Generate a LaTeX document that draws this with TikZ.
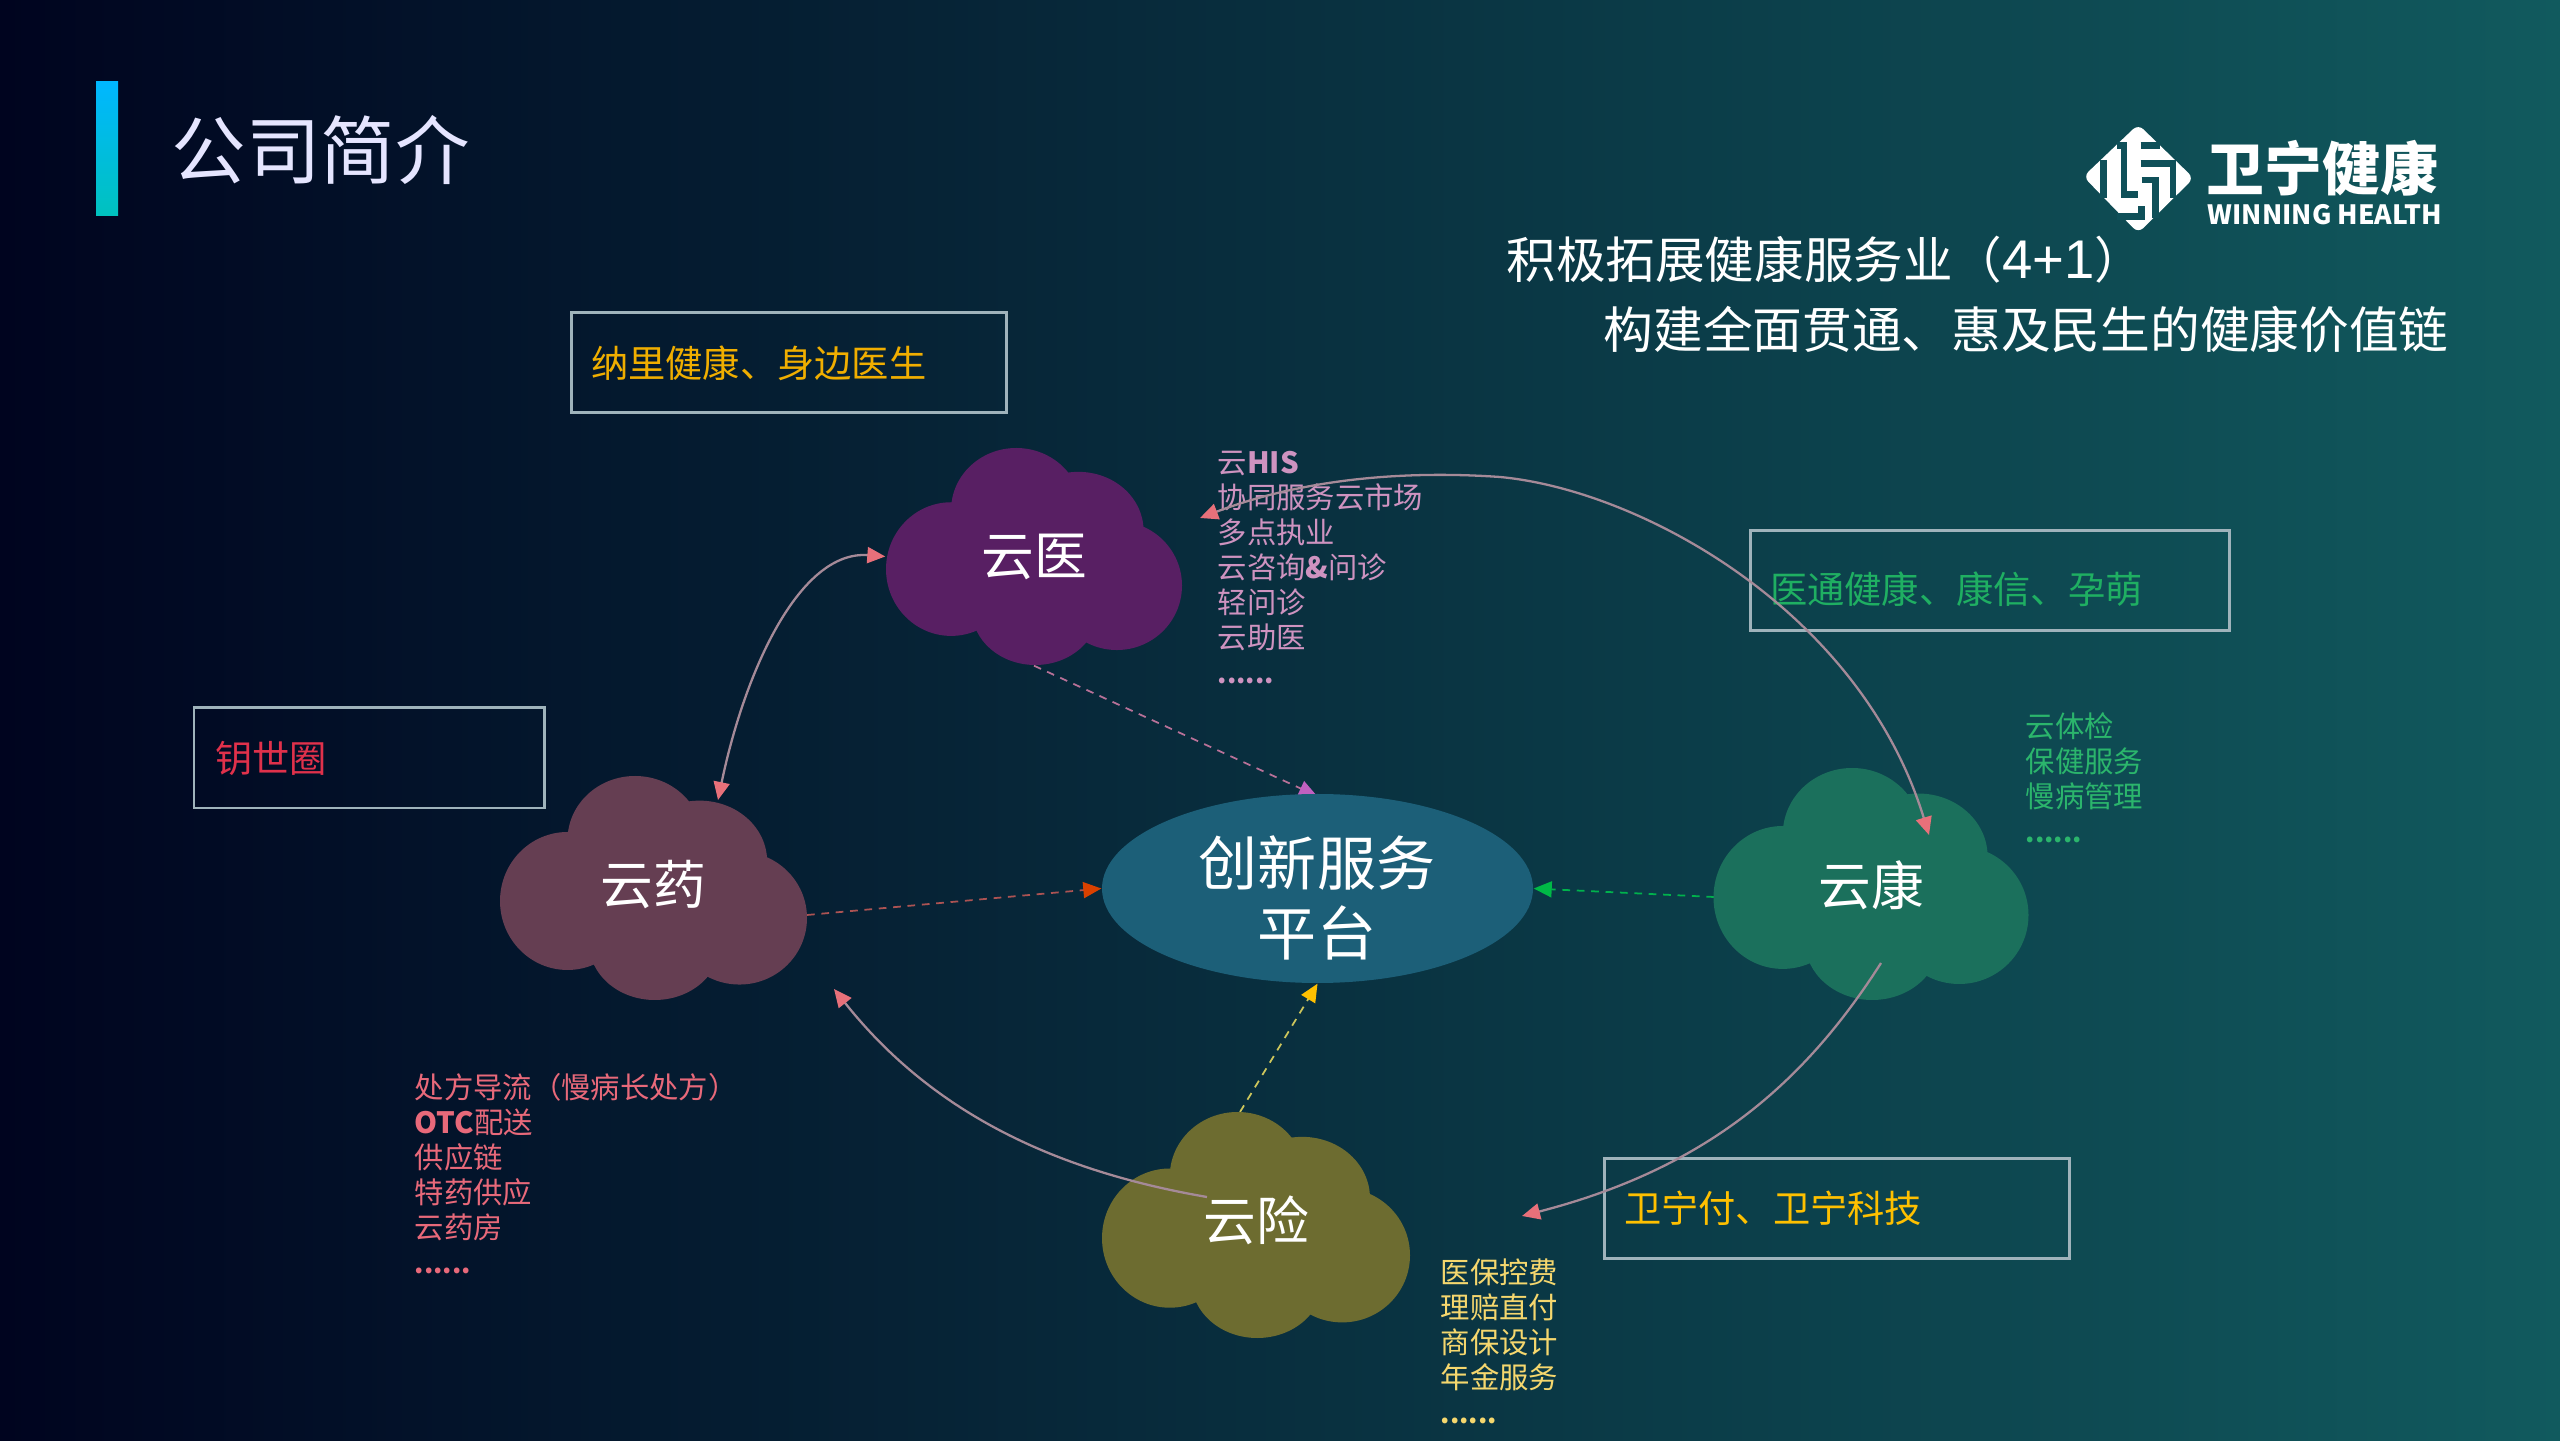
\documentclass[tikz,border=0pt]{standalone}
\usepackage{fontspec}
\setmainfont{Noto Sans CJK SC}
\newfontfamily\digitfont{Liberation Sans}
\usetikzlibrary{shapes, calc, positioning, arrows.meta, backgrounds}

\definecolor{bg_left}{HTML}{00041F}
\definecolor{bg_mid}{HTML}{05304A}
\definecolor{bg_right}{HTML}{115A5E}
\definecolor{bar_top}{HTML}{00B7FF}
\definecolor{bar_bottom}{HTML}{00C2BE}
\definecolor{logo_bg}{HTML}{0F5059}
\definecolor{yi_col}{HTML}{581F63}
\definecolor{kang_col}{HTML}{1B705C}
\definecolor{yao_col}{HTML}{653E52}
\definecolor{xian_col}{HTML}{6D6C30}
\definecolor{plat_col}{HTML}{1C5F78}
\definecolor{box_col}{HTML}{9FB3BB}
\definecolor{curve_col}{HTML}{A58A98}
\definecolor{tip_col}{HTML}{E8707A}
\definecolor{yi_text}{HTML}{CE93C0}
\definecolor{yi_tip}{HTML}{C060C0}
\definecolor{kang_text}{HTML}{2BB56C}
\definecolor{yao_text}{HTML}{E8697A}
\definecolor{xian_text}{HTML}{F5D76E}
\definecolor{yi_box}{HTML}{F0AE00}
\definecolor{kang_box}{HTML}{1FAF62}
\definecolor{yao_box}{HTML}{E0314B}
\definecolor{xian_box}{HTML}{FFC000}

\tikzset{
    tipped/.style={-{Triangle[length=.18cm, width=.16cm, color=#1]}},
    both tipped/.style={{Triangle[length=.18cm, width=.16cm, color=#1]}-{Triangle[length=.18cm, width=.16cm, color=#1]}},
    link/.style={line width=.5pt, dash pattern=on 2.2pt off 1.9pt},
    curve/.style={draw=curve_col, line width=.65pt},
    infobox/.style={draw=box_col, line width=.85pt, align=left, inner ysep=0pt, minimum height=1cm, font=\fontsize{10.6}{13}\selectfont},
    infolist/.style={anchor=west, inner sep=0pt, align=left, font=\fontsize{8.35}{9.96}\selectfont},
    cloudtext/.style={inner sep=0pt, text=white, font=\fontsize{15}{17}\selectfont},
    logoline/.style={draw=logo_bg, line width=1.9pt}
}

\newcommand{\listdots}{{\fontsize{7.6}{9.96}\selectfont\textbf{......}}}

% [text lift], name, centre, width, height, colour, text
\newcommand{\yuncloud}[7][0]{
    \begin{scope}[shift={#3}, xscale=#4, yscale=#5]
        \fill[#6] (-.28,-.058) ellipse [x radius=.22, y radius=.308];
        \fill[#6] (-.06,.215) ellipse [x radius=.22, y radius=.285];
        \fill[#6] (.15,.12) ellipse [x radius=.22, y radius=.27];
        \fill[#6] (.28,-.134) ellipse [x radius=.22, y radius=.297];
        \fill[#6] (.004,-.246) ellipse [x radius=.214, y radius=.254];
        \fill[#6] (0,0) ellipse [x radius=.3, y radius=.25];
    \end{scope}
    \node[cloudtext, minimum width=#4cm, minimum height=#5cm, yshift=#1cm] (#2) at #3 {#7};
}

\begin{document}
\begin{tikzpicture}
    \useasboundingbox (0,0) rectangle (25.6,14.4);
    \begin{scope}[on background layer]
        \shade[left color=bg_left, middle color=bg_mid, right color=bg_right] (0,0) rectangle (25.6,14.4);
    \end{scope}

    % title and logo
    \shade[top color=bar_top, bottom color=bar_bottom] (.96,12.24) rectangle (1.18,13.58);
    \node[anchor=west, inner sep=0pt, text=white!90!blue, font=\fontsize{21.2}{25}\selectfont] (title) at (1.71,12.9) {公司简介};
    \begin{scope}[shift={(20.7,13.25)}, x=.00333cm, y=-.00333cm]
        \fill[white, rounded corners=.07cm] (205,28) -- (372,190) -- (205,355) -- (40,185) -- cycle;
        \draw[logoline] (100,135) -- (100,250);
        \draw[logoline] (310,135) -- (310,250);
        \draw[logoline] (140,92) -- (162,92) -- (162,240) -- (205,240);
        \draw[logoline] (212,92) -- (270,92);
        \draw[logoline] (212,145) -- (300,145);
        \draw[logoline] (215,195) -- (258,195) -- (258,310);
        \draw[logoline] (140,305) -- (215,305) -- (215,275);
    \end{scope}
    \node[inner sep=0pt, text=white, font=\fontsize{16.5}{20}\bfseries\selectfont] (logo_cn) at (23.22,12.72) {卫宁健康};
    \node[inner sep=0pt, text=white, font=\fontsize{7.55}{9}\bfseries\selectfont] (logo_en) at (23.25,12.25) {WINNING HEALTH};

    % heading
    \node[anchor=west, inner sep=0pt, text=white, font=\fontsize{14.1}{17}\selectfont] (head_1) at (15.06,11.8) {积极拓展健康服务业（{\digitfont\fontsize{15.5}{17}\selectfont 4+1}）};
    \node[anchor=west, inner sep=0pt, text=white, font=\fontsize{14.14}{17}\selectfont] (head_2) at (16.03,11.1) {构建全面贯通、惠及民生的健康价值链};

    % boxes
    \node[infobox, text width=3.95cm, inner xsep=.2cm, text=yi_box, yshift=0pt] (box_yi) at (7.885,10.77) {纳里健康、身边医生};
    \node[infobox, text width=3.08cm, inner xsep=.21cm, text=yao_box] (box_yao) at (3.69,6.82) {钥世圈};
    \node[infobox, text width=4.39cm, inner xsep=.2cm, text=kang_box, text height=.55cm, text depth=.1cm] (box_kang) at (19.895,8.59) {医通健康、康信、孕萌};
    \node[infobox, text width=4.25cm, inner xsep=.2cm, text=xian_box] (box_xian) at (18.365,2.315) {卫宁付、卫宁科技};

    % clouds
    \yuncloud{yi}{(10.34,8.835)}{2.96}{2.17}{yi_col}{云医}
    \yuncloud[-.015]{kang}{(18.71,5.56)}{3.15}{2.32}{kang_col}{云康}
    \yuncloud[.03]{yao}{(6.535,5.52)}{3.07}{2.24}{yao_col}{云药}
    \yuncloud[.05]{xian}{(12.56,2.15)}{3.08}{2.26}{xian_col}{云险}

    \node[ellipse, fill=plat_col, minimum width=4.31cm, minimum height=1.89cm, inner sep=0pt] (platform) at (13.175,5.515) {};
    \node[inner sep=0pt, align=center, text=white, font=\fontsize{16.8}{19.9}\selectfont] (platform_text) at (13.17,5.42) {创新服务\\平台};

    % lists
    \node[infolist, text=yi_text] (list_yi) at (12.17,8.72) {云\textbf{HIS}\\协同服务云市场\\多点执业\\云咨询\textbf{\&}问诊\\轻问诊\\云助医\\\listdots};
    \node[infolist, text=kang_text] (list_kang) at (20.25,6.62) {云体检\\保健服务\\慢病管理\\\listdots};
    \node[infolist, text=yao_text] (list_yao) at (4.14,2.66) {处方导流（慢病长处方）\\\textbf{OTC}配送\\供应链\\特药供应\\云药房\\\listdots};
    \node[infolist, text=xian_text] (list_xian) at (14.4,.99) {医保控费\\理赔直付\\商保设计\\年金服务\\\listdots};

    % free ends
    \coordinate (yao_top) at (7.18,6.4);
    \coordinate (yi_right) at (12,9.22);
    \coordinate (yi_over) at (15,9.63);
    \coordinate (kang_top) at (19.29,6.05);
    \coordinate (kang_bottom) at (18.81,4.77);
    \coordinate (xian_right) at (15.22,2.24);
    \coordinate (xian_left) at (12.07,2.43);
    \coordinate (xian_top) at (12.4,3.28);
    \coordinate (yao_bottom) at (8.34,4.51);
    \coordinate (yao_right) at (8.07,5.25);
    \coordinate (kang_left) at (17.14,5.43);
    \coordinate (platform_top) at (13.17,6.44);

    % dashed links go under the ellipse
    \begin{scope}[on background layer]
        \draw[link, draw=magenta!40!gray, tipped=yi_tip] (yi.south) -- (platform_top);
        \draw[link, draw=red!35!gray, tipped=orange!60!red!85!black] (yao_right) -- (platform.west);
        \draw[link, draw=green!40!teal, tipped=green!45!teal] (kang_left) -- (platform.east);
        \draw[link, draw=yellow!55!gray, tipped=xian_box] (xian_top) -- (platform.south);
    \end{scope}

    % curved links
    \draw[curve, both tipped=tip_col] (yao_top) .. controls (7.45,7.7) and (8,8.9) .. (yi.west);
    \draw[curve, both tipped=tip_col] (yi_right) .. controls (13,9.6) and (14,9.7) .. (yi_over) .. controls (16.4,9.5) and (18.6,8.3) .. (kang_top);
    \draw[curve, tipped=tip_col] (kang_bottom) .. controls (18,3.5) and (17,2.7) .. (xian_right);
    \draw[curve, tipped=tip_col] (xian_left) .. controls (10.5,2.7) and (9.3,3.3) .. (yao_bottom);
\end{tikzpicture}
\end{document}
